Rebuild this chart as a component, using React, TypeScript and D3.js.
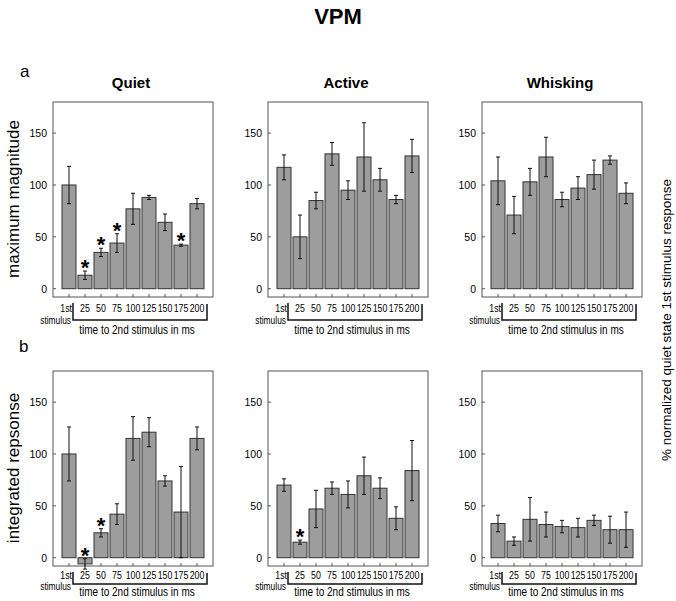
import React from 'react';
import * as d3 from 'd3';

// x categories: first stimulus, then interval to 2nd stimulus (ms)
const intervals = ['1st', '25', '50', '75', '100', '125', '150', '175', '200'];
const yTicks = [0, 50, 100, 150];

// a: maximum magnitude (% of quiet 1st stimulus response)
const maxQuiet = [100, 13, 35, 44, 77, 88, 64, 42, 82];
const maxQuietErr = [18, 4, 4, 9, 15, 2, 8, 1, 5];
const maxQuietSig = ['25', '50', '75', '175'];
const maxActive = [117, 50, 85, 130, 95, 127, 105, 86, 128];
const maxActiveErr = [12, 21, 8, 11, 9, 33, 11, 4, 16];
const maxWhisk = [104, 71, 103, 127, 86, 97, 110, 124, 92];
const maxWhiskErr = [23, 18, 13, 19, 7, 11, 14, 4, 10];

// b: integrated response
const intQuiet = [100, -6, 24, 42, 115, 121, 74, 44, 115];
const intQuietErr = [26, 5, 4, 10, 21, 14, 5, 44, 11];
const intQuietSig = ['25', '50'];
const intActive = [70, 15, 47, 67, 61, 79, 67, 38, 84];
const intActiveErr = [6, 2, 18, 6, 13, 18, 10, 11, 29];
const intActiveSig = ['25'];
const intWhisk = [33, 16, 37, 32, 30, 29, 36, 27, 27];
const intWhiskErr = [8, 4, 21, 12, 6, 9, 5, 13, 17];

const SANS = "'Liberation Sans', Arial, sans-serif";

// condensed text (the original uses a narrow face), squeezed horizontally
function NText({ x, y, anchor = 'middle', size = 11, children }: any) {
  return (
    <text transform={`translate(${x},${y}) scale(0.8,1)`} textAnchor={anchor}
      fontFamily={SANS} fontSize={size}>{children}</text>
  );
}

type Gaps = { label: number; stim: number; bracket: number; time: number };

type PanelProps = {
  left: number;
  top: number;
  means: number[];
  errs: number[];
  sig?: string[];
  title?: string;
  gaps: Gaps;
};

const W = 160;
const H = 195;

function Panel({ left, top, means, errs, sig = [], title, gaps }: PanelProps) {
  const x = d3.scaleBand<string>()
    .domain(intervals)
    .range([left + 9, left + W - 9])
    .paddingInner(0.125)
    .paddingOuter(0);
  const y = d3.scaleLinear().domain([-8, 180]).range([top + H, top]);
  const bw = x.bandwidth();
  const bottom = top + H;
  const c0 = x('1st')! + bw / 2;
  const bracketL = c0 + 4;
  const bracketR = x('200')! + bw + 3;

  return (
    <g>
      {title && (
        <text x={left + W / 2 - 2} y={top - 14} textAnchor="middle"
          fontFamily={SANS} fontWeight="bold" fontSize={15}>{title}</text>
      )}
      <rect x={left} y={top} width={W} height={H} fill="none" stroke="#555" strokeWidth={1} />
      {yTicks.map(t => (
        <g key={t}>
          <line x1={left} x2={left + 3} y1={y(t)} y2={y(t)} stroke="#555" />
          <text x={left - 6} y={y(t) + 4} textAnchor="end" fontFamily={SANS} fontSize={10.5}>{t}</text>
        </g>
      ))}
      {intervals.map((c, i) => {
        const cx = x(c)! + bw / 2;
        const v = means[i];
        const e = errs[i];
        return (
          <g key={c}>
            <line x1={cx} x2={cx} y1={bottom} y2={bottom - 3} stroke="#555" />
            <rect x={x(c)!} y={Math.min(y(v), y(0))} width={bw} height={Math.abs(y(0) - y(v))}
              fill="#9d9d9d" stroke="#333" strokeWidth={1} />
            <line x1={cx} x2={cx} y1={y(v + e)} y2={y(v - e)} stroke="#111" strokeWidth={1} />
            <line x1={cx - 2} x2={cx + 2} y1={y(v + e)} y2={y(v + e)} stroke="#111" />
            <line x1={cx - 2} x2={cx + 2} y1={y(v - e)} y2={y(v - e)} stroke="#111" />
            {sig.includes(c) && (
              <text x={cx} y={y(v + e) + 4} textAnchor="middle" fontFamily={SANS}
                fontWeight="bold" fontSize={22}>*</text>
            )}
            {c === '1st' ? (
              <>
                <NText x={cx + 3} y={bottom + gaps.label} anchor="end">1st</NText>
                <NText x={cx + 2} y={bottom + gaps.stim} anchor="end" size={10.5}>stimulus</NText>
              </>
            ) : (
              <NText x={cx} y={bottom + gaps.label}>{c}</NText>
            )}
          </g>
        );
      })}
      <path d={`M${bracketL},${bottom + 6}V${bottom + gaps.bracket}H${bracketR}V${bottom + 7}`}
        fill="none" stroke="#111" strokeWidth={1.5} />
      <NText x={(bracketL + bracketR) / 2 - 3} y={bottom + gaps.time} size={12.5}>
        time to 2nd stimulus in ms
      </NText>
    </g>
  );
}

export default function App() {
  const cols = [53, 268, 482];
  const rows = [102, 371];
  const gapsA = { label: 15, stim: 26.5, bracket: 23, time: 37 };
  const gapsB = { label: 13, stim: 24, bracket: 18, time: 30 };
  return (
    <svg width={676} height={601} style={{ display: 'block', position: 'absolute', left: 0, top: 0 }}>
      <rect width={676} height={601} fill="#fff" />
      <text x={338} y={24} textAnchor="middle" fontFamily={SANS} fontWeight="bold" fontSize={22}>VPM</text>
      <text x={20} y={77} fontFamily={SANS} fontSize={17}>a</text>
      <text x={19} y={352} fontFamily={SANS} fontSize={17}>b</text>
      <text transform={`translate(19,${rows[0] + 97}) rotate(-90)`} textAnchor="middle"
        fontFamily={SANS} fontSize={17}>maximum magnitude</text>
      <text transform={`translate(19,${rows[1] + 97}) rotate(-90)`} textAnchor="middle"
        fontFamily={SANS} fontSize={17}>integrated repsonse</text>
      <text transform="translate(671,320) rotate(-90)" textAnchor="middle"
        fontFamily={SANS} fontSize={13.5}>% normalized quiet state 1st stimulus response</text>

      <Panel left={cols[0]} top={rows[0]} means={maxQuiet} errs={maxQuietErr} sig={maxQuietSig} title="Quiet" gaps={gapsA} />
      <Panel left={cols[1]} top={rows[0]} means={maxActive} errs={maxActiveErr} title="Active" gaps={gapsA} />
      <Panel left={cols[2]} top={rows[0]} means={maxWhisk} errs={maxWhiskErr} title="Whisking" gaps={gapsA} />
      <Panel left={cols[0]} top={rows[1]} means={intQuiet} errs={intQuietErr} sig={intQuietSig} gaps={gapsB} />
      <Panel left={cols[1]} top={rows[1]} means={intActive} errs={intActiveErr} sig={intActiveSig} gaps={gapsB} />
      <Panel left={cols[2]} top={rows[1]} means={intWhisk} errs={intWhiskErr} gaps={gapsB} />
    </svg>
  );
}
